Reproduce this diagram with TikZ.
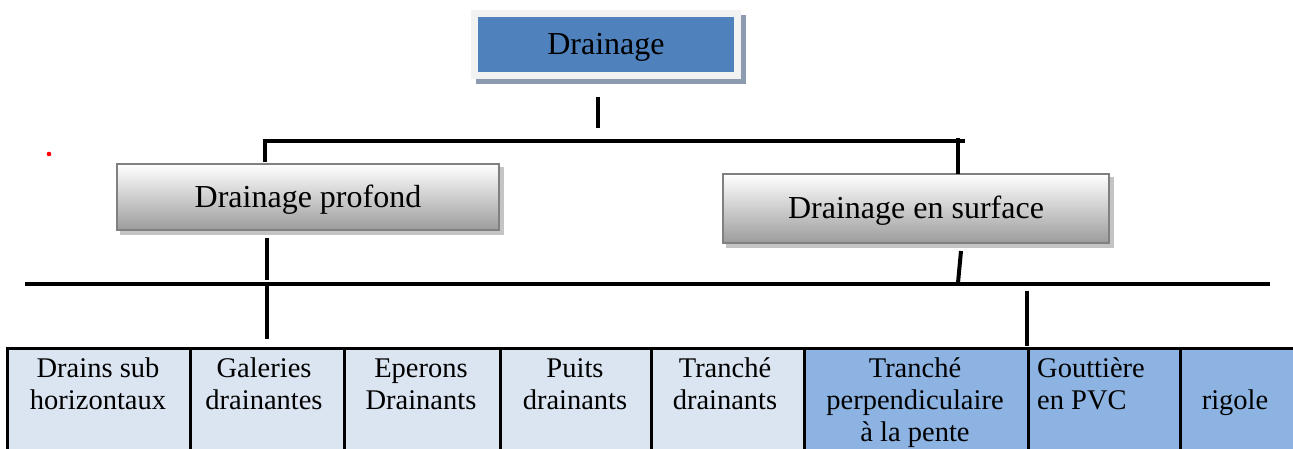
\documentclass[tikz,border=0pt]{standalone}
\usepackage{fontspec}
\setmainfont{Liberation Serif}
\usetikzlibrary{backgrounds}
\definecolor{topblue}{HTML}{4F81BD}
\definecolor{topframe}{HTML}{F2F2F2}
\definecolor{topshadow}{HTML}{8C9BB0}
\definecolor{boxedge}{HTML}{808080}
\definecolor{boxshade}{HTML}{9C9C9C}
\definecolor{boxshadow}{HTML}{C4C4C4}
\definecolor{paleblue}{HTML}{DBE5F1}
\definecolor{midblue}{HTML}{8DB3E2}
\definecolor{dotred}{HTML}{FF0000}

\begin{document}
\begin{tikzpicture}[x=1pt,y=-1pt,
  bigfont/.style={font=\fontsize{32}{38}\selectfont},
  cellfont/.style={font=\fontsize{28.5}{32}\selectfont},
  headbox/.style={bigfont, draw=topframe, line width=7pt, fill=topblue,
    inner sep=0pt, text height=24pt, text depth=4pt},
  gradbox/.style={bigfont, draw=boxedge, line width=2pt, top color=white,
    bottom color=boxshade, inner sep=0pt, text height=24pt, text depth=4pt},
  cell/.style={draw=black, line width=2.6pt, anchor=north west, inner sep=0pt,
    minimum height=130pt},
  celltext/.style={cellfont, align=center, inner sep=0pt, anchor=north},
  conn/.style={line width=4pt, black},
]
\useasboundingbox (0,0) rectangle (1293,448);
\clip (0,0) rectangle (1293,448);

% --- boxes of the hierarchy
\node[headbox, minimum width=263pt, minimum height=62pt] (drain) at (606,44) {Drainage};
\node[gradbox, minimum width=382pt, minimum height=66pt] (prof) at (308,197) {Drainage profond};
\node[gradbox, minimum width=386pt, minimum height=69pt] (surf) at (916,208.5) {Drainage en surface};

\begin{scope}[on background layer]
  \fill[topshadow] ([shift={(5,5)}]drain.south west) rectangle ([shift={(5,5)}]drain.north east);
  \fill[boxshadow] ([shift={(4,4)}]prof.south west) rectangle ([shift={(4,4)}]prof.north east);
  \fill[boxshadow] ([shift={(4,4)}]surf.south west) rectangle ([shift={(4,4)}]surf.north east);
\end{scope}

% --- table of techniques
\node[cell, fill=paleblue, minimum width=183pt] (c1) at (6,347) {};
\node[cell, fill=paleblue, minimum width=154pt] (c2) at (189,347) {};
\node[cell, fill=paleblue, minimum width=156pt] (c3) at (343,347) {};
\node[cell, fill=paleblue, minimum width=151pt] (c4) at (499,347) {};
\node[cell, fill=paleblue, minimum width=153pt] (c5) at (650,347) {};
\node[cell, fill=midblue, minimum width=224pt] (c6) at (803,347) {};
\node[cell, fill=midblue, minimum width=152pt] (c7) at (1027,347) {};
\node[cell, fill=midblue, minimum width=120pt] (c8) at (1179,347) {};

\node[celltext] (t1) at (98,354.6) {\strut Drains sub\\horizontaux};
\node[celltext] (t2) at (264,354.6) {\strut Galeries\\drainantes};
\node[celltext] (t3) at (421,354.6) {\strut Eperons\\Drainants};
\node[celltext] (t4) at (575,354.6) {\strut Puits\\drainants};
\node[celltext] (t5) at (725,354.6) {\strut Tranché\\drainants};
\node[celltext] (t6) at (915,354.6) {\strut Tranché\\perpendiculaire\\à la pente};
\node[celltext, align=left, anchor=north west] (t7) at (1037,354.6) {\strut Gouttière\\en PVC};
\node[celltext] (t8) at (1235,386.6) {\strut rigole};

% --- connector segments
\coordinate (a1) at (598,97);   \coordinate (a2) at (598,128);
\coordinate (b1) at (265,162);  \coordinate (b2) at (265,141);
\coordinate (b3) at (965,141);
\coordinate (b4) at (958,138);  \coordinate (b5) at (958,174);
\coordinate (p1) at (267,238);  \coordinate (p2) at (267,280);
\coordinate (p3) at (267,284);  \coordinate (p4) at (267,339);
\coordinate (h1) at (25,284);   \coordinate (h2) at (1270,284);
\coordinate (s1) at (961,251);  \coordinate (s2) at (958,283);
\coordinate (g1) at (1027,291); \coordinate (g2) at (1027,346);

\draw[conn] (a1) -- (a2);
\draw[conn, line join=miter] (b1) -- (b2) -- (b3);
\draw[conn] (b4) -- (b5);
\draw[conn] (p1) -- (p2);
\draw[conn] (p3) -- (p4);
\draw[conn] (h1) -- (h2);
\draw[conn] (s1) -- (s2);
\draw[conn] (g1) -- (g2);

% stray mark
\fill[dotred] (49,154) circle (2.3pt);
\end{tikzpicture}
\end{document}
